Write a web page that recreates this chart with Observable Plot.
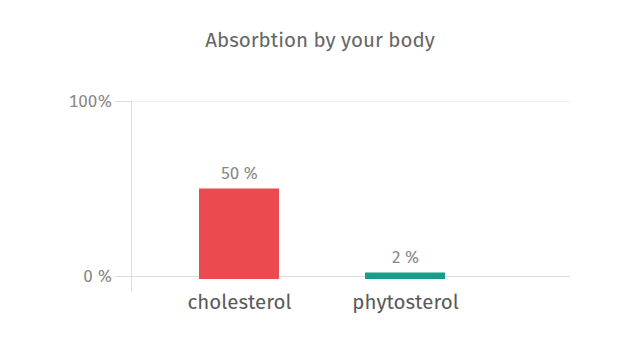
<!DOCTYPE html>
<html><head><meta charset="utf-8">
<script src="https://cdn.jsdelivr.net/npm/d3@7"></script>
<script src="https://cdn.jsdelivr.net/npm/@observablehq/plot@0.6"></script>
<style>
body{margin:0;background:#fff;font-family:"Fira Sans","Open Sans",sans-serif;}
#title{height:80px;line-height:81px;text-align:center;font-size:20.5px;color:#666;}
</style></head>
<body>
<div id="title">Absorbtion by your body</div>
<div id="chart"></div>
<script>
const categories = ["cholesterol", "phytosterol"];
const values = [50, 2];
const colors = ["#EB4B4E", "#169E8C"];
const yTicks = [0, 100];
const yTickLabels = ["0 %", "100%"];

const data = categories.map((c, i) => ({category: c, value: values[i], color: colors[i]}));

const chart = Plot.plot({
  width: 640,
  height: 280,
  marginLeft: 131,
  marginRight: 70,
  marginTop: 21,
  marginBottom: 84,
  style: {fontFamily: '"Fira Sans","Open Sans",sans-serif', color: "#666", background: "#fff"},
  x: {domain: categories, paddingInner: 0.518, paddingOuter: 0.58, align: 0.352, label: null},
  y: {domain: [0, 100], label: null},
  marks: [
    Plot.ruleY([100], {stroke: "#f0f0f0"}),
    Plot.frame({anchor: "left", stroke: "#ddd", insetBottom: -14}),
    Plot.ruleY([0], {stroke: "#ddd", insetLeft: -16}),
    Plot.axisY({ticks: yTicks, tickFormat: (d) => yTickLabels[yTicks.indexOf(d)], tickSize: 16, tickPadding: 3, stroke: "#ddd", fill: "#888", fontSize: 17, label: null}),
    Plot.axisX({tickSize: 0, tickPadding: 18, fontSize: 20.5, fill: "#5a5a5a", label: null}),
    Plot.barY(data, {x: "category", y: "value", fill: "color", insetBottom: -3}),
    Plot.text(data, {x: "category", y: "value", text: (d) => `${d.value} %`, dy: -15, fontSize: 17, fill: "#888"})
  ]
});
document.getElementById("chart").appendChild(chart);
</script>
</body></html>
